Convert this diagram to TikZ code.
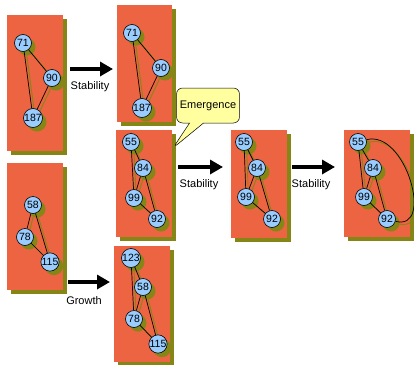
\documentclass[tikz,border=0pt]{standalone}
\usepackage{fontspec}
\setmainfont{Liberation Sans}
\usetikzlibrary{arrows.meta, positioning, fit, shadows, shapes.callouts}

\definecolor{panelred}{RGB}{236,100,66}
\definecolor{shade}{RGB}{134,134,22}
\definecolor{agentblue}{RGB}{153,204,255}
\definecolor{notepale}{RGB}{255,255,160}

\pgfdeclarelayer{panels}
\pgfdeclarelayer{ghost}
\pgfsetlayers{panels,ghost,main}

\begin{document}
\begin{tikzpicture}[x=1pt, y=-1pt, font=\fontsize{11}{13}\selectfont, >=Latex,
  panel/.style={fill=panelred, inner sep=0pt, general shadow={fill=shade, shadow xshift=4pt, shadow yshift=-4pt}},
  ag/.style={circle, draw, line width=0.6pt, fill=agentblue, minimum size=17pt, inner sep=0pt, font=\fontsize{10.5}{10.5}\selectfont,
    general shadow={fill=shade, shadow xshift=4pt, shadow yshift=-4pt}},
  link/.style={line width=0.7pt},
  ghostlink/.style={draw=shade, line width=0.9pt, transform canvas={shift={(2.5,2.5)}}},
  flow/.style={-{Triangle[length=13pt, width=14pt]}, line width=4pt},
  lbl/.style={inner sep=0pt},
  note/.style={rectangle callout, draw, line width=0.5pt, fill=notepale, rounded corners=6pt, minimum width=62pt, minimum height=35pt,
    callout pointer width=14pt}]
\useasboundingbox (0,0) rectangle (414,364);

% snapshots of the network
\begin{pgfonlayer}{panels}
\node[panel, fit={(7,15) (63,151)}] (p1) {};
\node[panel, fit={(117,5) (172,122)}] (p2) {};
\node[panel, fit={(116,130) (172,237)}] (p3) {};
\node[panel, fit={(231,130) (287,238)}] (p4) {};
\node[panel, fit={(344,130) (410,237)}] (p5) {};
\node[panel, fit={(7,163) (63,290)}] (p6) {};
\node[panel, fit={(114,246) (170,362)}] (p7) {};
\end{pgfonlayer}

% agents
\node[ag] (a71) at (23,43) {71};
\node[ag] (a90) at (52,78) {90};
\node[ag] (a187) at (33,118) {187};

\node[ag] (b71) at (132,33) {71};
\node[ag] (b90) at (161,68) {90};
\node[ag] (b187) at (142,108) {187};

\node[ag] (c55) at (131,142) {55};
\node[ag] (c84) at (143,168) {84};
\node[ag] (c99) at (134,198) {99};
\node[ag] (c92) at (157,219) {92};

\node[ag] (d55) at (244,142) {55};
\node[ag] (d84) at (257,168) {84};
\node[ag] (d99) at (246,197) {99};
\node[ag] (d92) at (272,219) {92};

\node[ag] (e55) at (358,142) {55};
\node[ag] (e84) at (373,168) {84};
\node[ag] (e99) at (364,197) {99};
\node[ag] (e92) at (387,219) {92};

\node[ag] (f58) at (33,205) {58};
\node[ag] (f78) at (25,237) {78};
\node[ag] (f115) at (50,262) {115};

\node[ag] (g123) at (131,258) {123};
\node[ag] (g58) at (143,287) {58};
\node[ag] (g78) at (134,319) {78};
\node[ag] (g115) at (158,344) {115};

% links, each with its shadow underneath
\foreach \u/\v in {a71/a90, a71/a187, a90/a187, b71/b90, b71/b187, b90/b187,
  c55/c84, c55/c99, c84/c99, c84/c92, c99/c92, d55/d84, d55/d99, d84/d99, d84/d92, d99/d92,
  e55/e84, e55/e99, e84/e99, e84/e92, e99/e92, f58/f78, f58/f115, f78/f115,
  g123/g58, g123/g78, g58/g78, g58/g115, g78/g115}{
  \begin{pgfonlayer}{ghost}
  \draw[ghostlink] (\u) -- (\v);
  \end{pgfonlayer}
  \draw[link] (\u) -- (\v);
}
\begin{pgfonlayer}{ghost}
\draw[ghostlink] (e55) to[out=15, in=-15, looseness=1.2] (e92);
\end{pgfonlayer}
\draw[link] (e55) to[out=15, in=-15, looseness=1.2] (e92);

% transitions
\coordinate (s1) at (70,69); \coordinate (t1) at (113,69);
\coordinate (s2) at (178,167); \coordinate (t2) at (223,167);
\coordinate (s3) at (292,167); \coordinate (t3) at (335,167);
\coordinate (s4) at (68,282); \coordinate (t4) at (110,282);
\draw[flow] (s1) -- (t1); \draw[flow] (s2) -- (t2); \draw[flow] (s3) -- (t3); \draw[flow] (s4) -- (t4);
\node[lbl] (l1) at (90,87) {Stability};
\node[lbl] (l2) at (199,185) {Stability};
\node[lbl] (l3) at (311,185) {Stability};
\node[lbl] (l4) at (84,301) {Growth};

\node[note, callout absolute pointer={(173,148)}] (em) at (208,105.5) {Emergence};
\end{tikzpicture}
\end{document}
